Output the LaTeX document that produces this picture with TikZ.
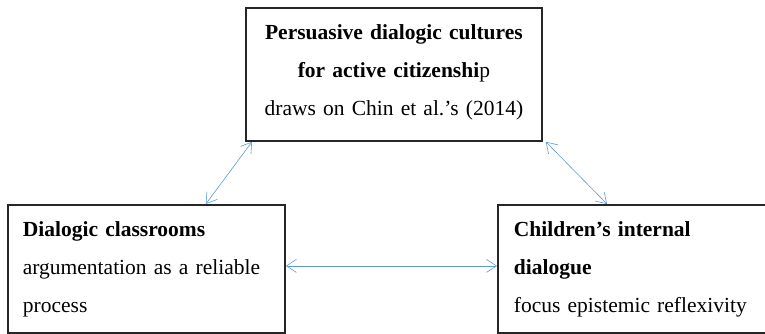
\documentclass[tikz,border=0pt]{standalone}
\usepackage{fontspec}
\setmainfont{Liberation Serif}
\usetikzlibrary{arrows.meta}
\definecolor{linkblue}{RGB}{91,155,213}

\begin{document}
\begin{tikzpicture}[x=1pt, y=-1pt,
    box/.style={draw=black!85, line width=1.8pt, anchor=north west, inner xsep=15pt, inner ysep=0pt, font=\fontsize{21.5}{38}\selectfont},
    link/.style={draw=linkblue, line width=0.6pt, {Straight Barb[length=10pt,width=13pt]}-{Straight Barb[length=10pt,width=13pt]}}]

    \useasboundingbox (0,0) rectangle (765,333);
    \clip (0,0) rectangle (765,333);

    \node(civic)[box, minimum width=296pt, minimum height=133pt, text width=266pt, align=center] at (245,7)
        {\textbf{Persuasive dialogic cultures}\\\textbf{for active citizenshi}p\\draws on Chin et al.’s (2014)\rule[-8pt]{0pt}{0pt}};

    \node(classroom)[box, minimum width=277pt, minimum height=128pt, text width=247pt, align=left] at (7,204)
        {\textbf{Dialogic classrooms}\\argumentation as a reliable\\process};

    \node(internal)[box, minimum width=280pt, minimum height=128pt, text width=248pt, inner xsep=16pt, align=left] at (497,204)
        {\textbf{Children’s internal}\\\textbf{dialogue}\\focus epistemic reflexivity};

    \draw[link] ([xshift=7pt]civic.south west) -- ([xshift=-80pt]classroom.north east);
    \draw[link] ([xshift=3pt]civic.south east) -- ([xshift=110pt]internal.north west);
    \draw[link] ([yshift=3pt]classroom.east) -- ([yshift=3pt]internal.west);
\end{tikzpicture}
\end{document}
